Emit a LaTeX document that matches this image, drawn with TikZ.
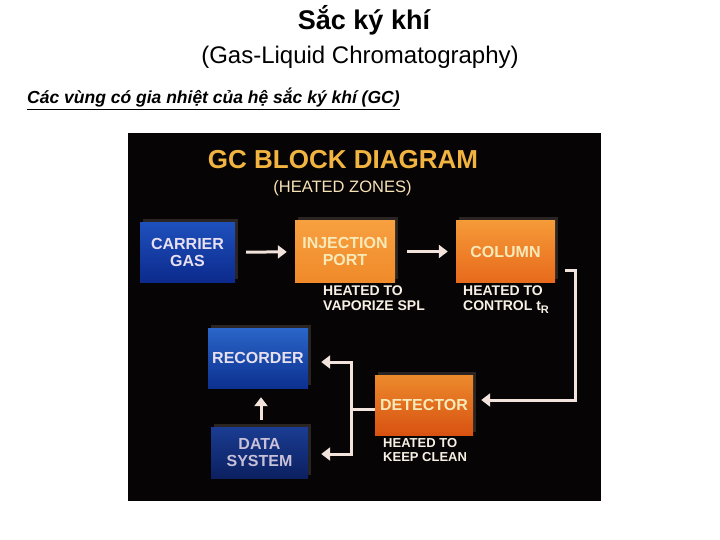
\documentclass[tikz,border=0pt]{standalone}
\usepackage{fontspec}
\setmainfont{Liberation Sans}
\usetikzlibrary{arrows.meta,calc}
\definecolor{photobg}{HTML}{060404}
\definecolor{arrowc}{HTML}{F2E4DC}
\definecolor{goldc}{HTML}{F2B440}
\definecolor{zonesc}{HTML}{F8E2B8}
\definecolor{labelc}{HTML}{F8F0E4}
\definecolor{bluetext}{HTML}{E8E0F0}
\definecolor{dimbluetext}{HTML}{C8C0D8}
\definecolor{orangetext}{HTML}{F8EAB8}
\definecolor{shadowc}{HTML}{2A2422}
\definecolor{cgtop}{HTML}{1E50BC}
\definecolor{cgbot}{HTML}{0C2A8C}
\definecolor{rctop}{HTML}{2A66C8}
\definecolor{rcbot}{HTML}{0C3090}
\definecolor{dstop}{HTML}{1A3C92}
\definecolor{dsbot}{HTML}{0C2060}
\definecolor{ijtop}{HTML}{F7A040}
\definecolor{ijbot}{HTML}{F08A2A}
\definecolor{cltop}{HTML}{F59A38}
\definecolor{clbot}{HTML}{E86A1C}
\definecolor{dttop}{HTML}{EC8A2C}
\definecolor{dtbot}{HTML}{D85212}
\tikzset{
  box/.style={inner sep=0pt, align=center, font=\fontsize{16}{17}\selectfont\bfseries},
  bluebox/.style 2 args={box, top color=#1, bottom color=#2, text=bluetext},
  orangebox/.style 2 args={box, top color=#1, bottom color=#2, text=orangetext},
  shadowbox/.style={fill=shadowc, draw=none},
  conn/.style={draw=arrowc, line width=3pt},
  arrowconn/.style={conn, -{Triangle[length=9pt,width=13pt]}},
  heatlabel/.style={text=labelc, align=left, inner sep=0pt, font=\fontsize{14}{14.5}\selectfont\bfseries},
}
\begin{document}
\begin{tikzpicture}[x=1pt,y=-1pt]
\useasboundingbox (0,0) rectangle (720,540);
\fill[white] (0,0) rectangle (720,540);
% page titles
\node[font=\fontsize{27}{28}\selectfont\bfseries, inner sep=0pt] (title) at (364,20) {Sắc ký khí};
\node[font=\fontsize{24}{25}\selectfont, inner sep=0pt] (subtitle) at (360,57) {(Gas-Liquid Chromatography)};
\node[font=\fontsize{17.5}{18}\selectfont\bfseries\itshape, inner sep=0pt, anchor=base west] (caption) at (27,104) {\underline{Các vùng có gia nhiệt của hệ sắc ký khí (GC)}};
% photo background
\fill[photobg] (128,133) rectangle (601,501);
\node[text=goldc, font=\fontsize{26}{27}\selectfont\bfseries, inner sep=0pt] (gct) at (343,160) {GC BLOCK DIAGRAM};
\node[text=zonesc, font=\fontsize{16.5}{17}\selectfont, inner sep=0pt] (zones) at (342.5,188) {(HEATED ZONES)};
% shadows
\fill[shadowbox] (143,219) rectangle (238,279);
\fill[shadowbox] (298,217) rectangle (398,279);
\fill[shadowbox] (459,217) rectangle (558,279);
\fill[shadowbox] (211,325) rectangle (311,385);
\fill[shadowbox] (378,372) rectangle (476,432);
\fill[shadowbox] (214,424) rectangle (311,475);
% boxes
\node[bluebox={cgtop}{cgbot}, minimum width=95pt, minimum height=59pt] (carrier) at (187.5,252.5) {CARRIER\\GAS};
\node[orangebox={ijtop}{ijbot}, minimum width=100pt, minimum height=61pt] (inject) at (345,251.5) {INJECTION\\PORT};
\node[orangebox={cltop}{clbot}, minimum width=99pt, minimum height=61pt] (column) at (505.5,251.5) {COLUMN};
\node[bluebox={rctop}{rcbot}, minimum width=100pt, minimum height=60pt] (recorder) at (258,358) {RECORDER};
\node[bluebox={dstop}{dsbot}, text=dimbluetext, minimum width=97pt, minimum height=51pt] (datasys) at (259.5,452.5) {DATA\\SYSTEM};
\node[orangebox={dttop}{dtbot}, minimum width=98pt, minimum height=60pt] (detector) at (424,405) {DETECTOR};
% heat labels
\node[heatlabel, anchor=north west] (lab1) at (323,286) {HEATED TO\\VAPORIZE SPL};
\node[heatlabel, anchor=north west] (lab2) at (463,286) {HEATED TO\\CONTROL t\raisebox{-0.45ex}{\fontsize{11}{11}\selectfont R}};
\node[heatlabel, anchor=north west, font=\fontsize{13}{14}\selectfont\bfseries] (lab3) at (383,438) {HEATED TO\\KEEP CLEAN};
% connectors
\draw[arrowconn, shorten <=11pt, shorten >=8pt] (carrier) -- (inject);
\draw[arrowconn, shorten <=12pt, shorten >=8pt] (inject) -- (column);
\coordinate (cbend) at (575,270);
\draw[arrowconn, shorten <=10pt, shorten >=8pt, line join=miter] (column.east |- cbend) -- (cbend) |- ([yshift=5pt]detector.east);
\coordinate (jn) at (351,409);
\draw[conn] ([yshift=-4pt]detector.west) -- (jn);
\draw[arrowconn, shorten >=13pt, line join=miter] (jn) |- ([yshift=-4pt]recorder.east);
\draw[arrowconn, shorten >=13pt, line join=miter] (jn) |- ([yshift=-1.5pt]datasys.east);
\draw[arrowconn, shorten <=7pt, shorten >=7pt] ([xshift=1.5pt]datasys.north) -- ([xshift=1.5pt,yshift=-2pt]datasys.north |- recorder.south);
\end{tikzpicture}
\end{document}
